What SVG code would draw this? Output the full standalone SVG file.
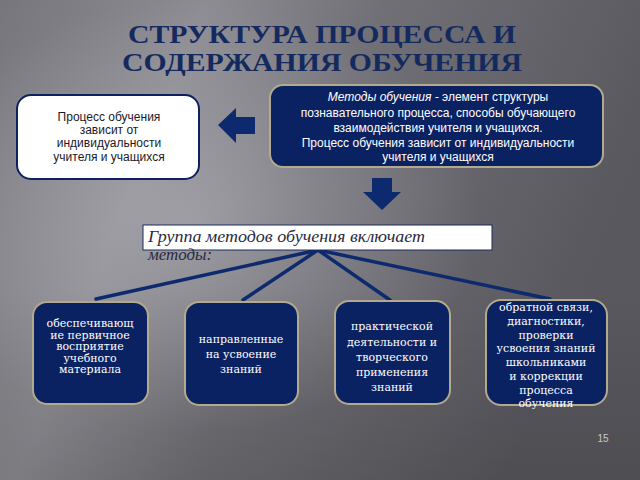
<svg xmlns="http://www.w3.org/2000/svg" width="640" height="480" viewBox="0 0 640 480">
<defs>
<linearGradient id="bg" x1="0" y1="0" x2="1" y2="0.3">
<stop offset="0" stop-color="#76767c"/>
<stop offset="0.3" stop-color="#8c8c92"/>
<stop offset="0.55" stop-color="#707076"/>
<stop offset="1" stop-color="#58585e"/>
</linearGradient>
<radialGradient id="glow" cx="0.3" cy="0.45" r="0.45">
<stop offset="0" stop-color="#b4b4ba" stop-opacity="0.55"/>
<stop offset="1" stop-color="#b4b4ba" stop-opacity="0"/>
</radialGradient>
<linearGradient id="shade" x1="0" y1="0" x2="0" y2="1">
<stop offset="0.6" stop-color="#000" stop-opacity="0"/>
<stop offset="1" stop-color="#000" stop-opacity="0.12"/>
</linearGradient>
</defs>
<style>
.title{font-family:"Liberation Serif","DejaVu Serif",serif;font-size:25px;font-weight:bold;fill:#142a5e;text-anchor:middle}
.wbox{fill:#ffffff;stroke:#0d2160;stroke-width:2}
.nbox{fill:#0b2262;stroke:#b3aa8c;stroke-width:2}
.sans{font-family:"Liberation Sans","Arial",sans-serif;font-size:12px;text-anchor:middle}
.dark{fill:#1a1a2a}
.white{fill:#ffffff}
.serif{font-family:"DejaVu Serif","Liberation Serif",serif;font-size:11px;fill:#ffffff;text-anchor:middle}
.arrow{fill:#0e2a6e}
.conn{stroke:#0e2a6e;stroke-width:3.5;fill:none;stroke-linecap:round}
.grp{font-family:"Liberation Serif","DejaVu Serif",serif;font-style:italic;font-size:16px;fill:#2a2a3e}
</style>
<rect width="640" height="480" fill="url(#bg)"/>
<rect width="640" height="480" fill="url(#glow)"/>
<rect width="640" height="480" fill="url(#shade)"/>

<g id="title">
<text class="title" x="322" y="43" textLength="388" lengthAdjust="spacingAndGlyphs">СТРУКТУРА ПРОЦЕССА И</text>
<text class="title" x="322" y="71" textLength="400" lengthAdjust="spacingAndGlyphs">СОДЕРЖАНИЯ ОБУЧЕНИЯ</text>
</g>

<g id="connectors">
<polygon class="arrow" points="218,125 236,108 236,117 255,117 255,134 236,134 236,143"/>
<polygon class="arrow" points="372,178 392,178 392,192 401,192 382,210 363,192 372,192"/>
<line class="conn" x1="318" y1="250" x2="96" y2="299"/>
<line class="conn" x1="318" y1="250" x2="243" y2="300"/>
<line class="conn" x1="318" y1="250" x2="390" y2="300"/>
<line class="conn" x1="318" y1="250" x2="550" y2="299"/>
</g>

<g id="node-left">
<rect class="wbox" x="17" y="95" width="182" height="84" rx="14"/>
<text class="sans dark" x="109" y="121">Процесс обучения</text>
<text class="sans dark" x="109" y="134">зависит от</text>
<text class="sans dark" x="109" y="147">индивидуальности</text>
<text class="sans dark" x="109" y="161">учителя и учащихся</text>
</g>

<g id="node-methods">
<rect class="nbox" x="270" y="85" width="333" height="82" rx="13"/>
<text class="sans white" x="438" y="101"><tspan font-style="italic">Методы обучения - </tspan> элемент структуры</text>
<text class="sans white" x="438" y="117">познавательного процесса, способы обучающего</text>
<text class="sans white" x="438" y="132">взаимодействия учителя и учащихся.</text>
<text class="sans white" x="438" y="147">Процесс обучения зависит от индивидуальности</text>
<text class="sans white" x="438" y="161">учителя и учащихся</text>
</g>

<g id="node-group">
<rect x="143" y="225" width="349" height="25" fill="#ffffff" stroke="#1a2a5e" stroke-width="1"/>
<text class="grp" x="148" y="242" textLength="277" lengthAdjust="spacingAndGlyphs">Группа методов обучения включает</text>
<text class="grp" x="148" y="260" textLength="64" lengthAdjust="spacingAndGlyphs">методы:</text>
</g>

<g id="node-1">
<rect class="nbox" x="33" y="302" width="115" height="102" rx="14"/>
<text class="serif" x="90" y="327" font-size="10.5">обеспечивающ</text>
<text class="serif" x="90" y="338.5" font-size="10.5">ие первичное</text>
<text class="serif" x="90" y="350" font-size="10.5">восприятие</text>
<text class="serif" x="90" y="361.5" font-size="10.5">учебного</text>
<text class="serif" x="90" y="373" font-size="10.5">материала</text>
</g>

<g id="node-2">
<rect class="nbox" x="185" y="302" width="113" height="103" rx="14"/>
<text class="serif" x="241" y="343">направленные</text>
<text class="serif" x="241" y="358">на усвоение</text>
<text class="serif" x="241" y="373">знаний</text>
</g>

<g id="node-3">
<rect class="nbox" x="335" y="301" width="115" height="103" rx="14"/>
<text class="serif" x="392" y="330">практической</text>
<text class="serif" x="392" y="346">деятельности и</text>
<text class="serif" x="392" y="361">творческого</text>
<text class="serif" x="392" y="376">применения</text>
<text class="serif" x="392" y="391">знаний</text>
</g>

<g id="node-4">
<rect class="nbox" x="486" y="300" width="121" height="105" rx="15"/>
<text class="serif" x="546" y="311">обратной связи,</text>
<text class="serif" x="546" y="325">диагностики,</text>
<text class="serif" x="546" y="339">проверки</text>
<text class="serif" x="546" y="352">усвоения знаний</text>
<text class="serif" x="546" y="366">школьниками</text>
<text class="serif" x="546" y="380">и коррекции</text>
<text class="serif" x="546" y="394">процесса</text>
<text class="serif" x="546" y="407">обучения</text>
</g>

<text x="603" y="442" font-family="Liberation Sans, Arial, sans-serif" font-size="10" fill="#c8c8cc" text-anchor="middle">15</text>
</svg>
